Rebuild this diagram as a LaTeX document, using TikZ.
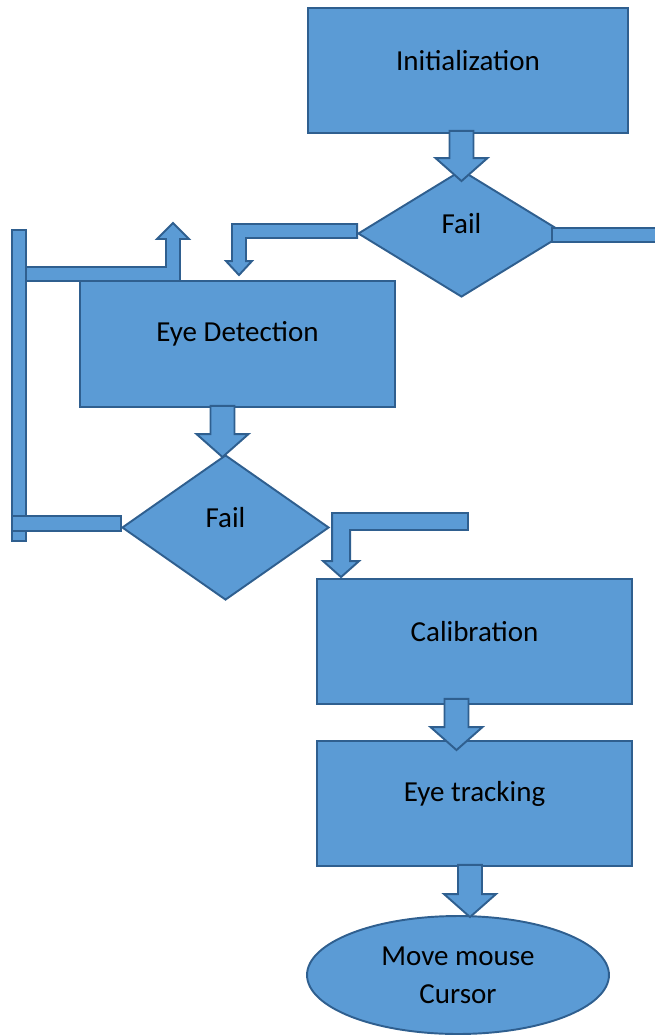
\documentclass[tikz,border=0pt]{standalone}
\usepackage{fontspec}
\setmainfont{Carlito}
\usepackage{tikz}
\usetikzlibrary{shapes.geometric,calc}

\definecolor{boxblue}{HTML}{5B9BD5}
\definecolor{edgeblue}{HTML}{2F5F8F}

\tikzset{
  box/.style={rectangle, draw=edgeblue, fill=boxblue, line width=1.1pt, inner sep=0pt, minimum width=6.3cm, minimum height=2.5cm},
  decision/.style={diamond, draw=edgeblue, fill=boxblue, line width=1.1pt, inner sep=0pt, minimum width=4.14cm},
  caption/.style={label={[yshift=0.2cm]center:#1}},
  blockarrow/.style={draw=edgeblue, fill=boxblue, line width=1.1pt, line join=miter}
}

% straight block arrow pointing down: #1 top, #2 tip
\newcommand\downblock[2]{%
  \draw[blockarrow] let \p1=(#1), \p2=(#2) in
    (\x2-0.24cm,\y1) -- (\x2+0.24cm,\y1) -- (\x2+0.24cm,\y2+0.46cm) -- (\x2+0.52cm,\y2+0.46cm)
    -- (\x2,\y2) -- (\x2-0.52cm,\y2+0.46cm) -- (\x2-0.24cm,\y2+0.46cm) -- cycle;}

\begin{document}
\begin{tikzpicture}[x=0.02cm, y=-0.02cm, font=\fontsize{16.5}{21.5}\selectfont]
        \useasboundingbox (0,0) rectangle (654,1035);

        \node (init) [box, minimum width=6.4cm, caption=Initialization] at (468,70.5) {};
        \node (fail1) [decision, minimum height=2.54cm, caption=Fail] at (461.5,233.5) {};
        \node (det) [box, minimum height=2.52cm, caption=Eye Detection] at (237.5,344) {};
        \node (fail2) [decision, minimum height=2.9cm, caption=Fail] at (225.5,527.5) {};
        \node (calib) [box, caption=Calibration] at (474.5,641.5) {};
        \node (track) [box, caption=Eye tracking] at (474.5,803.5) {};
        \node (mouse) [ellipse, draw=edgeblue, fill=boxblue, line width=1.1pt, inner sep=0pt,
              minimum width=6.04cm, minimum height=2.36cm, align=center] at (458,975) {Move mouse\\Cursor};

        \coordinate (loopbot) at (12,541);
        \coordinate (looptop) at (26,230);
        \coordinate (upstart) at (26,274);
        \coordinate (uptip) at (173,223);
        \coordinate (retend) at (468,521.5);

        % straight arrows
        \downblock{$(init.south)+(0,-3)$}{$(fail1.north)+(0,12)$}
        \downblock{$(det.south)+(0,-2)$}{$(fail2.north)+(-3,3)$}
        \downblock{$(calib.south)+(0,-6)$}{$(track.north)+(-18,10)$}
        \downblock{$(track.south)+(0,-2)$}{$(mouse.north)+(12,2)$}

        % fail -> back to detection
        \draw[blockarrow] let \p1=($(fail1.west)+(0,-2.5)$), \p2=($(det.north)+(1.5,-5)$) in
            (\x1,\y1+0.14cm) -- (\x2-0.14cm,\y1+0.14cm) -- (\x2-0.14cm,\y2+0.28cm) -- (\x2-0.26cm,\y2+0.28cm)
            -- (\x2,\y2) -- (\x2+0.26cm,\y2+0.28cm) -- (\x2+0.14cm,\y2+0.28cm) -- (\x2+0.14cm,\y1-0.14cm)
            -- (\x1,\y1-0.14cm) -- cycle;
        \draw[blockarrow] ($(fail1.east)+(-14,-5.5)$) rectangle (658,242);

        % pass -> calibration
        \draw[blockarrow] let \p1=(retend), \p2=($(calib.north west)+(25,-1)$) in
            (\x1,\y1+0.17cm) -- (\x2-0.18cm,\y1+0.17cm) -- (\x2-0.18cm,\y2+0.32cm) -- (\x2-0.36cm,\y2+0.32cm)
            -- (\x2,\y2) -- (\x2+0.36cm,\y2+0.32cm) -- (\x2+0.18cm,\y2+0.32cm) -- (\x2+0.18cm,\y1-0.17cm)
            -- (\x1,\y1-0.17cm) -- cycle;

        % loop on the left
        \draw[blockarrow] let \p1=(upstart), \p2=(uptip) in
            (\x1,\y1+0.14cm) -- (\x2-0.14cm,\y1+0.14cm) -- (\x2-0.14cm,\y2-0.32cm) -- (\x2-0.32cm,\y2-0.32cm)
            -- (\x2,\y2) -- (\x2+0.32cm,\y2-0.32cm) -- (\x2+0.14cm,\y2-0.32cm) -- (\x2+0.14cm,\y1-0.14cm)
            -- (\x1,\y1-0.14cm) -- cycle;
        \draw[blockarrow] (loopbot) rectangle (looptop);
        \draw[blockarrow] ($(fail2.west)+(0,-11.5)$) rectangle (loopbot |- 0,531);
    \end{tikzpicture}
\end{document}
